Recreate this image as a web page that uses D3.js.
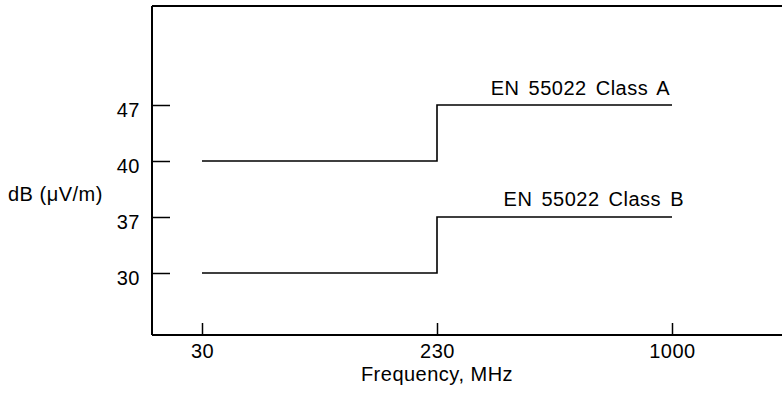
<!DOCTYPE html>
<html>
<head>
<meta charset="utf-8">
<script src="https://cdn.jsdelivr.net/npm/d3@7"></script>
<style>
  html, body { margin: 0; padding: 0; background: #fff; }
  svg { display: block; }
  text { font-family: "Liberation Sans", Arial, Helvetica, sans-serif; fill: #000; }
</style>
</head>
<body>
<svg id="chart" width="782" height="394"></svg>
<script>
// ---- data ----
const frequencies = [30, 230, 1000];          // MHz (x tick labels)
const levelTicks = [30, 37, 40, 47];          // dB(µV/m) (y tick labels)
const seriesNames = ["EN 55022 Class A", "EN 55022 Class B"];
const classA = [40, 47, 47];                  // limit at 30, 230, 1000 MHz
const classB = [30, 37, 37];
const xTitle = "Frequency, MHz";
const yTitle = "dB (\u03bcV/m)";

// ---- layout ----
const W = 782, H = 394;
const frame = { left: 152, top: 6, bottom: 335, right: 782 };
const svg = d3.select("#chart");

const x = d3.scalePoint().domain(frequencies).range([202, 672]);
const y = d3.scalePoint().domain(levelTicks).range([273, 105]);

const fontSize = 20;
const textStyle = sel => sel
  .style("font-size", fontSize + "px")
  .style("letter-spacing", "0.5px")
  .attr("fill", "#000");

// frame (left, top, bottom; right side open / cropped)
const fr = svg.append("g").attr("stroke", "#000").attr("fill", "none");
fr.append("line").attr("x1", frame.left).attr("x2", frame.left)
  .attr("y1", frame.top).attr("y2", frame.bottom).attr("stroke-width", 2);
fr.append("line").attr("x1", frame.left).attr("x2", frame.right)
  .attr("y1", frame.top).attr("y2", frame.top).attr("stroke-width", 2);
fr.append("line").attr("x1", frame.left).attr("x2", frame.right)
  .attr("y1", frame.bottom).attr("y2", frame.bottom).attr("stroke-width", 2);

// y axis
const gy = svg.append("g").attr("transform", `translate(${frame.left},0)`)
  .call(d3.axisLeft(y).tickSize(-18).tickPadding(12).tickFormat(d => String(d)));
gy.select(".domain").remove();
gy.selectAll(".tick line").attr("stroke", "#000").attr("stroke-width", 1.5);
gy.selectAll(".tick text").call(textStyle).attr("dy", "0.55em").attr("font-family", null);

// x axis
const gx = svg.append("g").attr("transform", `translate(0,${frame.bottom})`)
  .call(d3.axisBottom(x).tickSize(-12).tickPadding(9).tickFormat(d => String(d)));
gx.select(".domain").remove();
gx.selectAll(".tick line").attr("stroke", "#000").attr("stroke-width", 1.5);
gx.selectAll(".tick text").call(textStyle).attr("font-family", null);

// axis titles
svg.append("text").attr("x", 8).attr("y", 201).text(yTitle).call(textStyle);
svg.append("text").attr("x", x(230)).attr("y", 381)
  .attr("text-anchor", "middle").text(xTitle).call(textStyle);

// limit lines
const line = d3.line()
  .x((d, i) => x(frequencies[i]))
  .y(d => y(d))
  .curve(d3.curveStepAfter);

[classA, classB].forEach(vals => {
  svg.append("path").datum(vals)
    .attr("d", line)
    .attr("fill", "none")
    .attr("stroke", "#000")
    .attr("stroke-width", 1.6);
});

// series labels
svg.append("text").attr("x", x(1000) - 2).attr("y", y(47) - 10)
  .attr("text-anchor", "end").text(seriesNames[0]).call(textStyle)
  .style("word-spacing", "3px");
svg.append("text").attr("x", x(1000) + 12).attr("y", y(37) - 11)
  .attr("text-anchor", "end").text(seriesNames[1]).call(textStyle)
  .style("word-spacing", "3px");
</script>
</body>
</html>
